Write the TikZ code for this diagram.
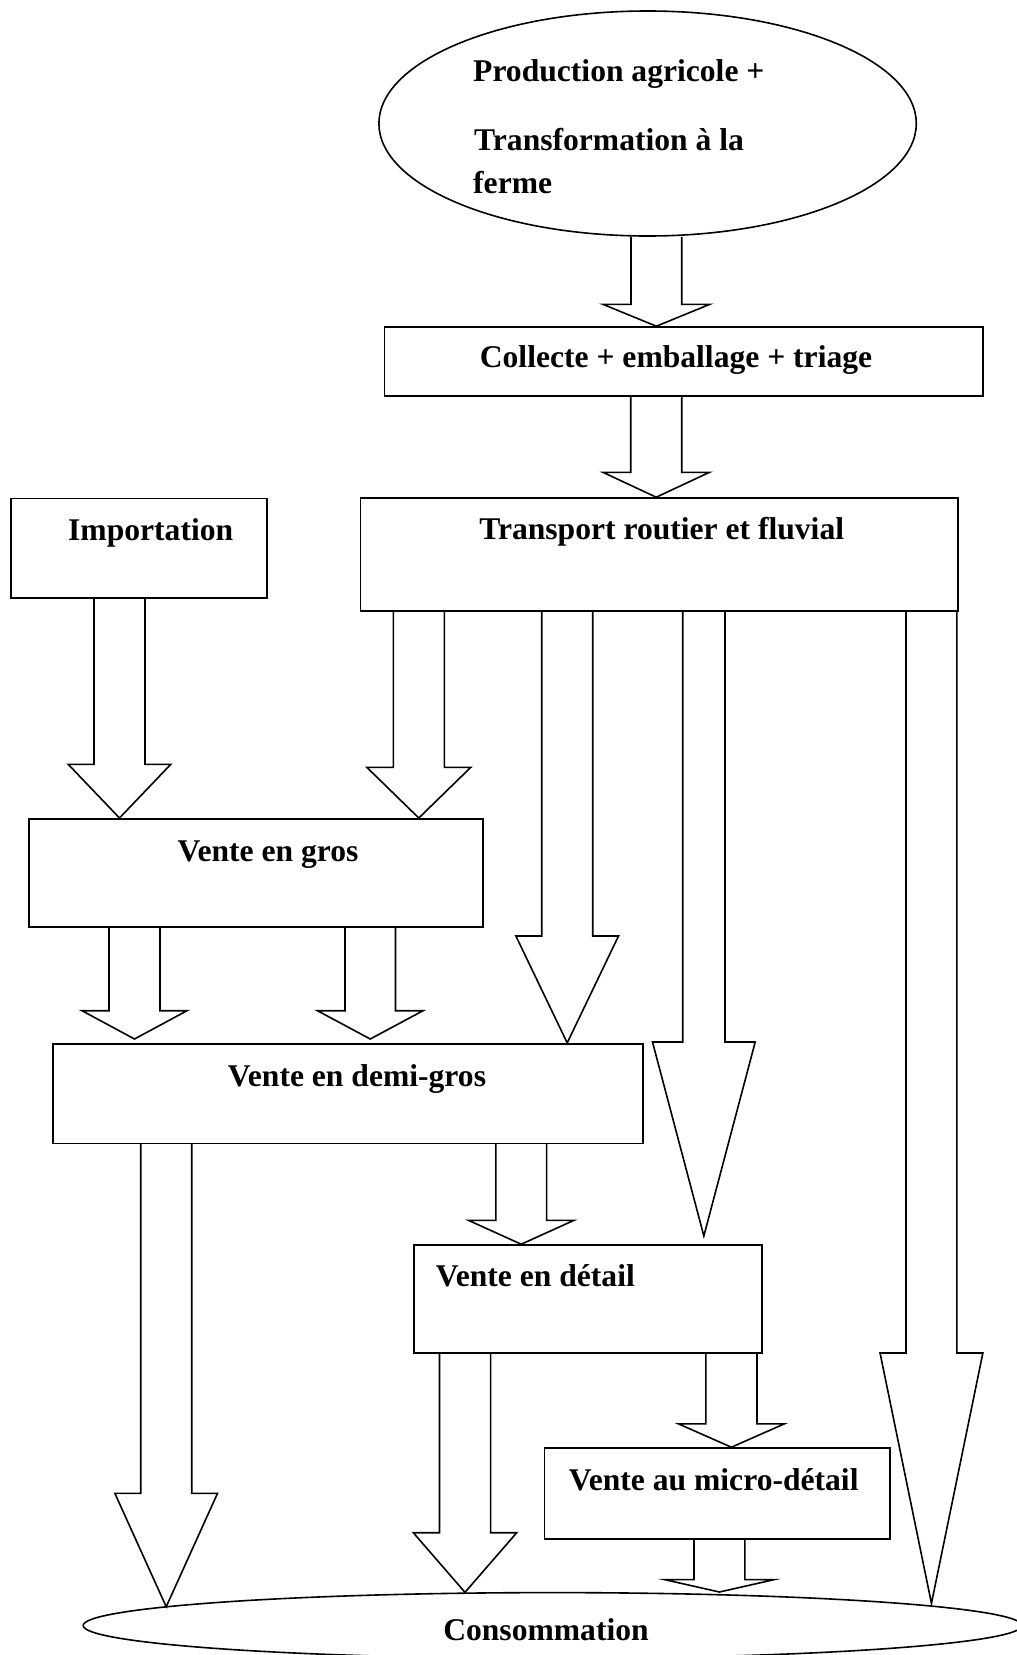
\documentclass[tikz,border=0pt]{standalone}
\usepackage{fontspec}
\setmainfont{Liberation Serif}
\usetikzlibrary{shapes.geometric}
\tikzset{
  box/.style={draw, line width=1.6pt, rectangle, inner sep=0pt},
  oval/.style={draw, line width=1.6pt, ellipse, inner sep=0pt},
  lbl/.style={inner sep=0pt, font=\fontsize{31.6}{38}\selectfont\bfseries},
  blk/.style={draw, line width=1.6pt, line join=miter}
}
% #1 centre x, #2 shaft half width, #3 head half width, #4 start, #5 shoulder y, #6 tip
\newcommand\blockarrow[6]{%
  \draw[blk] (#1-#2,0 |- #4) -- (#1-#2,#5) -- (#1-#3,#5) -- (#1,0 |- #6)
     -- (#1+#3,#5) -- (#1+#2,#5) -- (#1+#2,0 |- #4);}
\begin{document}
\begin{tikzpicture}[x=1pt,y=-1pt]
\useasboundingbox (0,0) rectangle (1017,1655);
\fill[white] (0,0) rectangle (1017,1655);

% nodes
\node[oval, minimum width=537.4pt, minimum height=225pt] (prod) at (647.6,123.5) {};
\node[lbl, anchor=base west] (prodA) at (473,81) {Production agricole +};
\node[lbl, anchor=base west] (prodB) at (474,150) {Transformation à la};
\node[lbl, anchor=base west] (prodC) at (473,193) {ferme};

\node[box, minimum width=598.7pt, minimum height=69pt] (col) at (683.65,361.5) {};
\node[lbl, anchor=base] (colT) at (676,367) {Collecte + emballage + triage};

\node[box, minimum width=597.2pt, minimum height=113pt] (trans) at (659.1,554.5) {};
\node[lbl, anchor=base] (transT) at (661.7,539.3) {Transport routier et fluvial};

\node[box, minimum width=256.3pt, minimum height=99.7pt] (imp) at (138.85,548.15) {};
\node[lbl, anchor=base] (impT) at (150.7,540.7) {Importation};

\node[box, minimum width=453.7pt, minimum height=107.7pt] (gros) at (255.85,872.85) {};
\node[lbl, anchor=base] (grosT) at (268,861.7) {Vente en gros};

\node[box, minimum width=590.2pt, minimum height=99.7pt] (demi) at (347.8,1093.55) {};
\node[lbl, anchor=base] (demiT) at (357,1086.7) {Vente en demi-gros};

\node[box, minimum width=348.2pt, minimum height=107.7pt] (det) at (587.8,1298.85) {};
\node[lbl, anchor=base west] (detT) at (435.7,1286.5) {Vente en détail};

\node[box, minimum width=345.3pt, minimum height=91pt] (micro) at (717.15,1493.5) {};
\node[lbl, anchor=base] (microT) at (713.7,1490.4) {Vente au micro-détail};

\node[oval, minimum width=938.8pt, minimum height=65.8pt] (cons) at (552.6,1625.5) {};
\node[lbl, anchor=base] (consT) at (546,1640) {Consommation};

% block arrows
\blockarrow{656.35}{25.35}{53.5}{prod.south}{304.3}{col.north}
\blockarrow{656.2}{25.5}{53.3}{col.south}{472.3}{trans.north}
\blockarrow{119.5}{25.5}{51.3}{imp.south}{764.3}{0,818}
\blockarrow{418.8}{25.5}{52}{trans.south}{767.3}{0,818}
\blockarrow{567.2}{25.5}{51.3}{trans.south}{936}{demi.north}
\blockarrow{703.85}{21.15}{51.35}{trans.south}{1042}{0,1236}
\blockarrow{931.45}{25.45}{51.4}{trans.south}{1353}{0,1603.4}
\blockarrow{134.5}{25.5}{52.5}{gros.south}{1010.7}{0,1039}
\blockarrow{370.25}{25.25}{52.8}{gros.south}{1010.7}{0,1039}
\blockarrow{166.2}{25.5}{51.35}{demi.south}{1493.3}{0,1606.7}
\blockarrow{521.2}{25.4}{52.6}{demi.south}{1220.4}{det.north}
\blockarrow{465}{25.55}{51.7}{det.south}{1532.7}{0,1592.3}
\blockarrow{731.4}{25.6}{52.8}{det.south}{1423.9}{micro.north}
\blockarrow{719.4}{25.4}{54.8}{micro.south}{1579.6}{0,1592}
\end{tikzpicture}
\end{document}
